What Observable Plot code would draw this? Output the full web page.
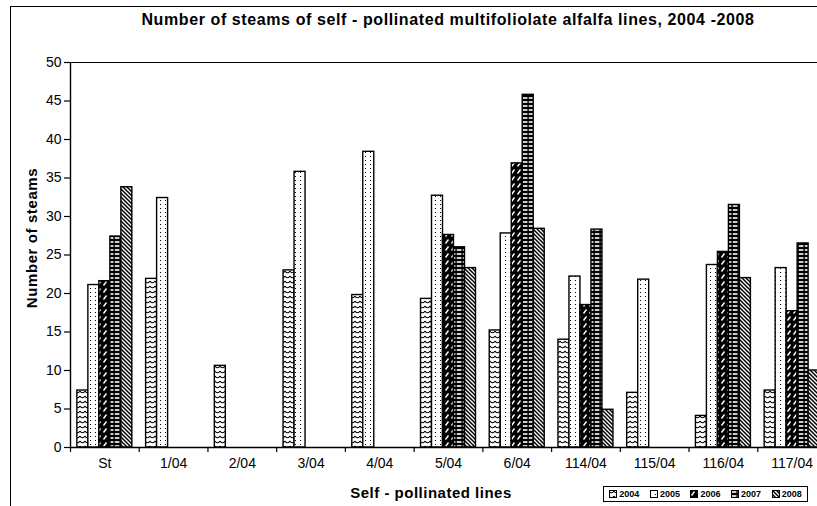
<!DOCTYPE html>
<html>
<head>
<meta charset="utf-8">
<script src="https://cdn.jsdelivr.net/npm/d3@7"></script>
<script src="https://cdn.jsdelivr.net/npm/@observablehq/plot@0.6"></script>
<style>
  html, body { margin: 0; padding: 0; background: #fff; }
  #wrap { position: relative; width: 817px; height: 506px; overflow: hidden; font-family: "Liberation Sans", Arial, sans-serif; }
  #border { position: absolute; left: 10px; top: 6px; width: 820px; height: 520px; border-left: 1.5px solid #000; border-top: 1.5px solid #000; }
  #title { position: absolute; left: 448px; top: 11px; transform: translateX(-50%); white-space: nowrap; font-weight: bold; font-size: 16px; letter-spacing: 0.6px; color: #000; }
  #ylab { position: absolute; left: 31px; top: 238px; transform: translate(-50%, -50%) rotate(-90deg); font-weight: bold; font-size: 15px; letter-spacing: 0.6px; white-space: nowrap; }
  #xlab { position: absolute; left: 431px; top: 484px; transform: translateX(-50%); font-weight: bold; font-size: 15px; letter-spacing: 0.5px; white-space: nowrap; }
  #legend { position: absolute; left: 603px; top: 486px; width: 205px; height: 16px; border: 1px solid #000; display: flex; align-items: center; justify-content: space-around; font-weight: bold; font-size: 9px; box-sizing: border-box; }
  #legend span { display: inline-flex; align-items: center; gap: 2px; }
  #defs { position: absolute; width: 0; height: 0; }
</style>
</head>
<body>
<div id="wrap">
  <svg id="defs" width="0" height="0">
    <defs>
      <pattern id="p2004" patternUnits="userSpaceOnUse" width="5" height="5">
        <rect width="5" height="5" fill="#fff"/>
        <path d="M0,1 Q2.5,4.5 5,1" fill="none" stroke="#000" stroke-width="1.1"/>
      </pattern>
      <pattern id="p2005" patternUnits="userSpaceOnUse" width="5" height="4">
        <rect width="5" height="4" fill="#fff"/>
        <rect x="0" y="0" width="1" height="1" fill="#000"/>
      </pattern>
      <pattern id="p2006" patternUnits="userSpaceOnUse" width="6" height="7">
        <rect width="6" height="7" fill="#000"/>
        <path d="M1.5,5.5 L4.5,1.5" stroke="#fff" stroke-width="1.4"/>
      </pattern>
      <pattern id="p2007" patternUnits="userSpaceOnUse" width="6" height="4">
        <rect width="6" height="4" fill="#000"/>
        <rect x="0.8" y="1.2" width="4.6" height="1.6" fill="#fff"/>
      </pattern>
      <pattern id="p2008" patternUnits="userSpaceOnUse" width="4" height="4">
        <rect width="4" height="4" fill="#fff"/>
        <path d="M-1,-1 L5,5 M-1,3 L1,5 M3,-1 L5,1" stroke="#000" stroke-width="1.5"/>
      </pattern>
    </defs>
  </svg>
  <div id="border"></div>
  <div id="chart"></div>
  <div id="title">Number of steams of self - pollinated multifoliolate alfalfa lines, 2004 -2008</div>
  <div id="ylab">Number of steams</div>
  <div id="xlab">Self - pollinated lines</div>
  <div id="legend"></div>
</div>
<script>
const lines = ["St", "1/04", "2/04", "3/04", "4/04", "5/04", "6/04", "114/04", "115/04", "116/04", "117/04"];
const years = ["2004", "2005", "2006", "2007", "2008"];
const v2004 = [7.4, 21.9, 10.6, 23.0, 19.8, 19.3, 15.2, 14.0, 7.1, 4.1, 7.4];
const v2005 = [21.1, 32.4, null, 35.8, 38.4, 32.7, 27.8, 22.2, 21.8, 23.7, 23.3];
const v2006 = [21.6, null, null, null, null, 27.6, 36.9, 18.5, null, 25.4, 17.7];
const v2007 = [27.4, null, null, null, null, 26.0, 45.8, 28.3, null, 31.5, 26.5];
const v2008 = [33.8, null, null, null, null, 23.3, 28.4, 4.9, null, 22.0, 10.0];
const yTicks = [0, 5, 10, 15, 20, 25, 30, 35, 40, 45, 50];

const series = [v2004, v2005, v2006, v2007, v2008];
const rows = [];
lines.forEach((line, i) => {
  series.forEach((vals, k) => {
    if (vals[i] != null) rows.push({line, i, year: years[k], k, value: vals[i]});
  });
});

const groupPad = 0.1;
const barW = (1 - 2 * groupPad) / years.length;

const chart = Plot.plot({
  width: 817,
  height: 506,
  marginLeft: 70,
  marginRight: -9,
  marginTop: 62,
  marginBottom: 59,
  style: {fontFamily: "Liberation Sans, Arial, sans-serif", fontSize: "14px", color: "#000", background: "transparent"},
  x: {domain: [0, lines.length]},
  y: {domain: [0, 50]},
  color: {type: "ordinal", domain: years, range: years.map(y => `url(#p${y})`)},
  marks: [
    Plot.ruleY([50], {stroke: "#000", strokeWidth: 1}),
    Plot.rectY(rows, {
      x1: d => d.i + groupPad + d.k * barW,
      x2: d => d.i + groupPad + (d.k + 1) * barW,
      y: "value",
      fill: "year",
      stroke: "#000",
      strokeWidth: 1.4
    }),
    Plot.ruleY([0], {stroke: "#000", strokeWidth: 1.4}),
    Plot.ruleX([0], {stroke: "#000", strokeWidth: 1.4}),
    Plot.axisY({ticks: yTicks, tickSize: 6, tickPadding: 3, label: null, fontSize: 14, strokeWidth: 1.2}),
    Plot.axisX({ticks: d3.range(0, lines.length + 1), tickSize: 5, tickFormat: () => "", label: null, strokeWidth: 1.2}),
    Plot.axisX({ticks: lines.map((d, i) => i + 0.5), tickSize: 0, tickPadding: 11, tickFormat: v => lines[Math.floor(v)], label: null, fontSize: 14})
  ]
});
document.getElementById("chart").appendChild(chart);

const legend = document.getElementById("legend");
years.forEach(y => {
  const s = document.createElement("span");
  s.innerHTML = `<svg width="8" height="8"><rect x="0.5" y="0.5" width="7" height="7" fill="url(#p${y})" stroke="#000" stroke-width="1"/></svg>${y}`;
  legend.appendChild(s);
});
</script>
</body>
</html>
